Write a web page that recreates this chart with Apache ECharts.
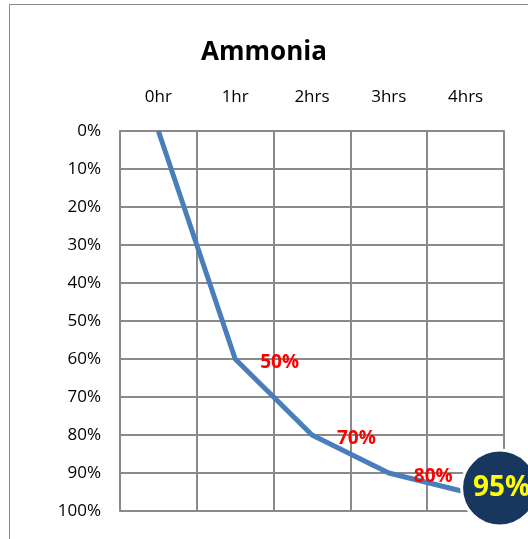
<!DOCTYPE html>
<html>
<head>
<meta charset="utf-8">
<script src="https://cdn.jsdelivr.net/npm/echarts@6/dist/echarts.min.js"></script>
<style>
  html, body { margin: 0; padding: 0; background: #fff; }
  .frame { position: absolute; left: 9px; top: 4px; width: 540px; height: 560px; border: 1px solid #8c8c8c; box-sizing: border-box; }
  #chart { position: absolute; left: 0; top: 0; width: 528px; height: 539px; }
</style>
</head>
<body>
<div class="frame"></div>
<div id="chart"></div>
<script>
// 数据
var hours = ['0hr', '1hr', '2hrs', '3hrs', '4hrs']
var removal = [0, 60, 80, 90, 95]
var pointLabels = ['', '50%', '70%', '80%', '']
var finalLabel = '95%'

var font = '"Open Sans", "Liberation Sans", sans-serif'
var gridColor = '#8a8a8a'

var chart = echarts.init(document.getElementById('chart'))

var option = {
  backgroundColor: 'transparent',
  animation: false,
  title: {
    text: 'Ammonia',
    left: 'center',
    top: 35,
    textStyle: { fontFamily: font, fontSize: 26, fontWeight: 'bold', color: '#000' }
  },
  grid: { left: 120, top: 131, right: 24, bottom: 28 },
  xAxis: {
    type: 'category',
    position: 'top',
    data: hours,
    boundaryGap: true,
    axisLine: { show: true, lineStyle: { color: gridColor, width: 2 } },
    axisTick: { show: false },
    axisLabel: { margin: 25, fontFamily: font, fontSize: 17, color: '#000' },
    splitLine: { show: true, lineStyle: { color: gridColor, width: 2 } }
  },
  yAxis: {
    type: 'value',
    inverse: true,
    min: 0,
    max: 100,
    interval: 10,
    axisLine: { show: true, lineStyle: { color: gridColor, width: 2 } },
    axisTick: { show: false },
    axisLabel: { margin: 19, fontFamily: font, fontSize: 17, color: '#000', formatter: '{value}%' },
    splitLine: { show: true, lineStyle: { color: gridColor, width: 2 } }
  },
  series: [
    {
      type: 'line',
      data: removal,
      symbol: 'circle',
      symbolSize: 0,
      showAllSymbol: true,
      lineStyle: { color: '#4a7ebb', width: 5 },
      itemStyle: { color: '#4a7ebb' },
      label: {
        show: true,
        position: 'right',
        distance: 25,
        offset: [0, 4],
        fontFamily: font,
        fontSize: 19,
        fontWeight: 'bold',
        color: '#ff0000',
        formatter: function (p) { return pointLabels[p.dataIndex] }
      },
      markPoint: {
        symbol: 'circle',
        symbolSize: 76,
        symbolOffset: [34, -4],
        itemStyle: { color: '#17375e', borderColor: '#fff', borderWidth: 3 },
        label: {
          show: true,
          offset: [2, 0],
          fontFamily: font,
          fontSize: 28,
          fontWeight: 'bold',
          color: '#ffff00',
          formatter: finalLabel
        },
        data: [{ coord: [hours[4], removal[4]] }]
      }
    }
  ]
}

chart.setOption(option)
</script>
</body>
</html>
